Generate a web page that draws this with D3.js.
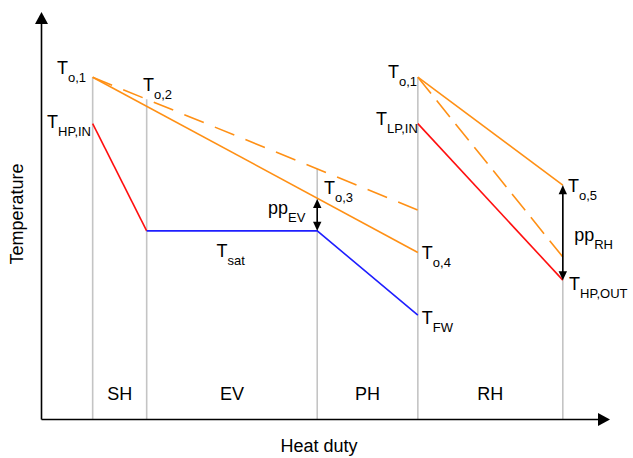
<!DOCTYPE html>
<html>
<head>
<meta charset="utf-8">
<script src="https://cdn.jsdelivr.net/npm/d3@7"></script>
<style>
  body { margin: 0; background: #fff; }
  text { font-family: "Liberation Sans", Arial, sans-serif; fill: #000; }
</style>
</head>
<body>
<div id="chart"></div>
<script>
// Heat duty (q) and temperature (t) in arbitrary units, 0 at the axis origin
const sectionEdges = [9, 18.5, 48.5, 66.2, 91.7];
const sectionTops = [84, 78.6, 61.5, 84, 57.5];
const sectionNames = ["SH", "EV", "PH", "RH"];

const gasHP = [[9, 84], [66.2, 41]];
const gasHPDashed = [[9, 84], [66.2, 51.4]];
const steamSH = [[9, 72.6], [18.5, 46.3]];
const waterEVPH = [[18.5, 46.3], [48.5, 46.3], [66.2, 25.6]];
const gasRH = [[66.2, 84], [91.7, 57.5]];
const gasRHDashed = [[66.2, 84], [91.7, 39.9]];
const steamRH = [[66.2, 72.6], [91.7, 34.2]];

// pinch points: heat duty, lower and upper temperature
const pinches = [
    { q: 48.5, lo: 46.3, hi: 54.1 },
    { q: 91.7, lo: 34.2, hi: 57.5 }
];

const labels = [
    { main: "T", sub: "o,1", q: 7.83, t: 84.9, anchor: "end" },
    { main: "T", sub: "o,2", q: 17.85, t: 80.6, anchor: "start" },
    { main: "T", sub: "HP,IN", q: 8.71, t: 71.5, anchor: "end" },
    { main: "T", sub: "o,3", q: 49.7, t: 55.3, anchor: "start" },
    { main: "pp", sub: "EV", q: 39.85, t: 50.4, anchor: "start" },
    { main: "T", sub: "sat", q: 30.8, t: 40.0, anchor: "start" },
    { main: "T", sub: "o,4", q: 66.9, t: 39.4, anchor: "start" },
    { main: "T", sub: "FW", q: 66.9, t: 23.4, anchor: "start" },
    { main: "T", sub: "o,1", q: 66.05, t: 83.9, anchor: "end" },
    { main: "T", sub: "LP,IN", q: 66.2, t: 72.3, anchor: "end" },
    { main: "T", sub: "o,5", q: 92.6, t: 55.8, anchor: "start" },
    { main: "pp", sub: "RH", q: 93.7, t: 43.8, anchor: "start" },
    { main: "T", sub: "HP,OUT", q: 92.8, t: 31.8, anchor: "start" }
];

const width = 633, height = 458;
const svg = d3.select("#chart")
    .append("svg")
    .attr("width", width)
    .attr("height", height);

const x = d3.scaleLinear().domain([0, 100]).range([41.5, 610]);
const y = d3.scaleLinear().domain([0, 100]).range([419.5, 12]);

const orange = "#ff9015", red = "#ff0f0f", blue = "#1f1fff", grey = "#c4c4c4";

const line = d3.line().x(d => x(d[0])).y(d => y(d[1]));

// filled triangle with its tip at (px, py), pointing along angle a
function arrowHead(g, px, py, a, len, half) {
    const c = Math.cos(a), s = Math.sin(a);
    const bx = px - c * len, by = py - s * len;
    g.append("path")
        .attr("d", `M${px},${py}L${bx - s * half},${by + c * half}L${bx + s * half},${by - c * half}Z`)
        .attr("fill", "#000");
}

// section boundaries
svg.append("g")
    .selectAll("line")
    .data(sectionEdges)
    .enter()
    .append("line")
    .attr("x1", d => x(d))
    .attr("x2", d => x(d))
    .attr("y1", y(0))
    .attr("y2", (d, i) => y(sectionTops[i]))
    .attr("stroke", grey)
    .attr("stroke-width", 1.6);

// section names
const bounds = [0].concat(sectionEdges);
svg.append("g")
    .selectAll("text")
    .data(sectionNames)
    .enter()
    .append("text")
    .attr("x", (d, i) => x((bounds[i + 1] + bounds[i + 2]) / 2))
    .attr("y", y(4.8))
    .attr("text-anchor", "middle")
    .attr("font-size", 18)
    .text(d => d);

// temperature profiles
const series = [
    { data: gasHP, color: orange, dash: null },
    { data: gasHPDashed, color: orange, dash: "21,12" },
    { data: steamSH, color: red, dash: null },
    { data: waterEVPH, color: blue, dash: null },
    { data: gasRH, color: orange, dash: null },
    { data: gasRHDashed, color: orange, dash: "21,9" },
    { data: steamRH, color: red, dash: null }
];
svg.append("g")
    .selectAll("path")
    .data(series)
    .enter()
    .append("path")
    .attr("d", d => line(d.data))
    .attr("fill", "none")
    .attr("stroke", d => d.color)
    .attr("stroke-width", 1.6)
    .attr("stroke-dasharray", d => d.dash);

// axes with arrow heads
const axes = svg.append("g");
axes.append("line")
    .attr("x1", x(0)).attr("y1", y(0))
    .attr("x2", x(0)).attr("y2", y(100) + 10)
    .attr("stroke", "#000").attr("stroke-width", 1.6);
axes.append("line")
    .attr("x1", x(0)).attr("y1", y(0))
    .attr("x2", x(100) - 10).attr("y2", y(0))
    .attr("stroke", "#000").attr("stroke-width", 1.6);
arrowHead(axes, x(0), y(100), -Math.PI / 2, 12, 6.5);
arrowHead(axes, x(100), y(0), 0, 12, 6.5);

axes.append("text")
    .attr("x", 319)
    .attr("y", 451.5)
    .attr("text-anchor", "middle")
    .attr("font-size", 18)
    .text("Heat duty");
axes.append("text")
    .attr("transform", `translate(22.5,214) rotate(-90)`)
    .attr("text-anchor", "middle")
    .attr("font-size", 18)
    .text("Temperature");

// pinch point arrows
const pp = svg.append("g");
pinches.forEach(p => {
    const px = x(p.q);
    pp.append("line")
        .attr("x1", px).attr("x2", px)
        .attr("y1", y(p.lo) - 6).attr("y2", y(p.hi) + 6)
        .attr("stroke", "#000").attr("stroke-width", 1.6);
    arrowHead(pp, px, y(p.lo), Math.PI / 2, 9, 4.2);
    arrowHead(pp, px, y(p.hi), -Math.PI / 2, 9, 4.2);
});

// point labels with subscripts
const lab = svg.append("g")
    .selectAll("text")
    .data(labels)
    .enter()
    .append("text")
    .attr("x", d => x(d.q))
    .attr("y", d => y(d.t))
    .attr("text-anchor", d => d.anchor)
    .attr("font-size", 18);
lab.append("tspan").text(d => d.main);
lab.append("tspan")
    .attr("dy", 8)
    .attr("font-size", 13)
    .text(d => d.sub);
</script>
</body>
</html>
